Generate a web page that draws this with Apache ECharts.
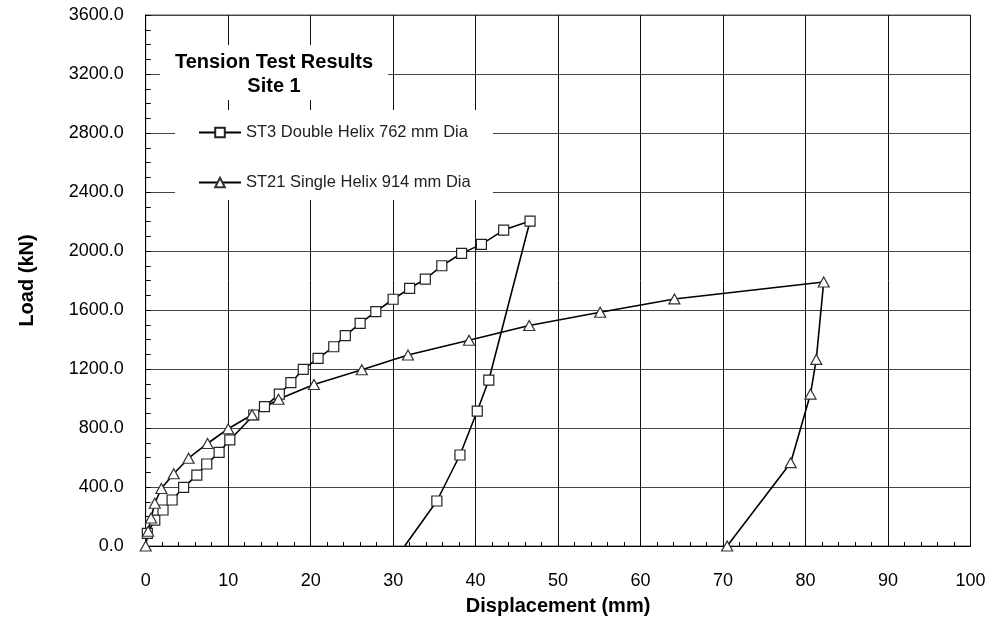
<!DOCTYPE html>
<html>
<head>
<meta charset="utf-8">
<script src="https://cdn.jsdelivr.net/npm/echarts@6/dist/echarts.min.js"></script>
<style>html,body{margin:0;padding:0;background:#fff}#c{width:992px;height:624px}</style>
</head>
<body>
<div id="c"></div>
<script>
// ST3 Double Helix 762 mm Dia
var st3X = [0.2, 1.1, 2.1, 3.2, 4.6, 6.2, 7.4, 8.9, 10.2, 13.1, 14.4, 16.2, 17.6, 19.1, 20.9, 22.8, 24.2, 26.0, 27.9, 30.0, 32.0, 33.9, 35.9, 38.3, 40.7, 43.4, 46.6, 41.6, 40.2, 38.1, 35.3, 31.4];
var st3Y = [86, 176, 244, 312, 398, 481, 556, 635, 719, 888, 945, 1030, 1107, 1198, 1272, 1351, 1426, 1510, 1589, 1673, 1747, 1810, 1900, 1984, 2045, 2142, 2203, 1125, 915, 617, 305, 0];
// ST21 Single Helix 914 mm Dia
var st21X = [0, 0.3, 0.65, 1.1, 1.9, 3.4, 5.2, 7.5, 10.0, 12.9, 16.1, 20.4, 26.2, 31.8, 39.2, 46.5, 55.1, 64.1, 82.2, 81.3, 80.6, 78.2, 70.5];
var st21Y = [0, 100, 190, 290, 390, 490, 595, 695, 795, 890, 995, 1095, 1195, 1295, 1395, 1495, 1585, 1675, 1790, 1265, 1030, 565, 0];
var seriesNames = ['ST3 Double Helix 762 mm Dia', 'ST21 Single Helix 914 mm Dia'];
var titleLines = ['Tension Test Results', 'Site 1'];
var xName = 'Displacement (mm)';
var yName = 'Load (kN)';
var xMin = 0, xMax = 100, xStep = 10, xMinorStep = 2;
var yMin = 0, yMax = 3600, yStep = 400, yMinorStep = 100;

var FONT = 'Liberation Sans, Arial, sans-serif';

function pairs(xs, ys, noSymbolLast) {
  return xs.map(function (x, i) {
    if (noSymbolLast && i === xs.length - 1) return { value: [x, ys[i]], symbol: 'none' };
    return [x, ys[i]];
  });
}

var chart = echarts.init(document.getElementById('c'));
chart.setOption({
  animation: false,
  backgroundColor: '#fff',
  grid: { left: 145.7, right: 21.5, top: 15, bottom: 78, show: true, borderColor: '#555', borderWidth: 1 },
  xAxis: [{
    type: 'value', min: xMin, max: xMax, interval: xStep, position: 'bottom',
    name: xName, nameLocation: 'middle', nameGap: 50,
    nameTextStyle: { fontFamily: FONT, fontSize: 20, fontWeight: 'bold', color: '#000' },
    axisLine: { lineStyle: { color: '#000', width: 1 } },
    axisTick: { show: true, inside: true, length: 4, lineStyle: { color: '#000' } },
    axisLabel: { fontFamily: FONT, fontSize: 18, color: '#000', margin: 26 },
    splitLine: { show: true, lineStyle: { color: '#111', width: 1 } }
  }, {
    type: 'value', min: xMin, max: xMax, interval: xMinorStep, position: 'bottom', offset: 0,
    axisLine: { show: false },
    axisTick: { show: true, inside: true, length: 4, lineStyle: { color: '#000' } },
    axisLabel: { show: false },
    splitLine: { show: false }
  }],
  yAxis: [{
    type: 'value', min: yMin, max: yMax, interval: yStep, position: 'left',
    name: yName, nameLocation: 'middle', nameGap: 108,
    nameTextStyle: { fontFamily: FONT, fontSize: 20, fontWeight: 'bold', color: '#000' },
    axisLine: { show: true, lineStyle: { color: '#000', width: 1 } },
    axisTick: { show: true, inside: true, length: 5, lineStyle: { color: '#000' } },
    axisLabel: { fontFamily: FONT, fontSize: 18, color: '#000', margin: 22,
      formatter: function (v) { return v.toFixed(1); } },
    splitLine: { show: true, lineStyle: { color: '#444', width: 1 } }
  }, {
    type: 'value', min: yMin, max: yMax, interval: yMinorStep, position: 'left', offset: 0,
    axisLine: { show: false },
    axisTick: { show: true, inside: true, length: 5, lineStyle: { color: '#000' } },
    axisLabel: { show: false },
    splitLine: { show: false }
  }],
  legend: {
    orient: 'vertical', left: 198, top: 124, itemWidth: 42, itemHeight: 12, itemGap: 33,
    padding: 0,
    textStyle: { fontFamily: FONT, fontSize: 16.5, color: '#222' },
    data: seriesNames
  },
  graphic: [
    { type: 'rect', z: 3, shape: { x: 160, y: 45, width: 228, height: 55 }, style: { fill: '#fff' } },
    { type: 'rect', z: 3, shape: { x: 175, y: 110, width: 318, height: 90 }, style: { fill: '#fff' } },
    { type: 'text', z: 5, style: { x: 274, y: 50, text: titleLines.join('\n'), align: 'center',
        font: 'bold 20px ' + FONT, lineHeight: 24, fill: '#000' } }
  ],
  series: [
    {
      name: seriesNames[0], type: 'line', data: pairs(st3X, st3Y, true),
      xAxisIndex: 0, yAxisIndex: 0,
      symbol: 'rect', symbolSize: 10, showAllSymbol: true,
      lineStyle: { color: '#000', width: 1.6 },
      itemStyle: { color: '#fff', borderColor: '#222', borderWidth: 1.2 },
      z: 2
    },
    {
      name: seriesNames[1], type: 'line', data: pairs(st21X, st21Y, false),
      xAxisIndex: 0, yAxisIndex: 0,
      symbol: 'triangle', symbolSize: [11, 10], showAllSymbol: true,
      lineStyle: { color: '#000', width: 1.6 },
      itemStyle: { color: '#fff', borderColor: '#333', borderWidth: 1.2 },
      clip: false,
      z: 2
    }
  ]
});
</script>
</body>
</html>
